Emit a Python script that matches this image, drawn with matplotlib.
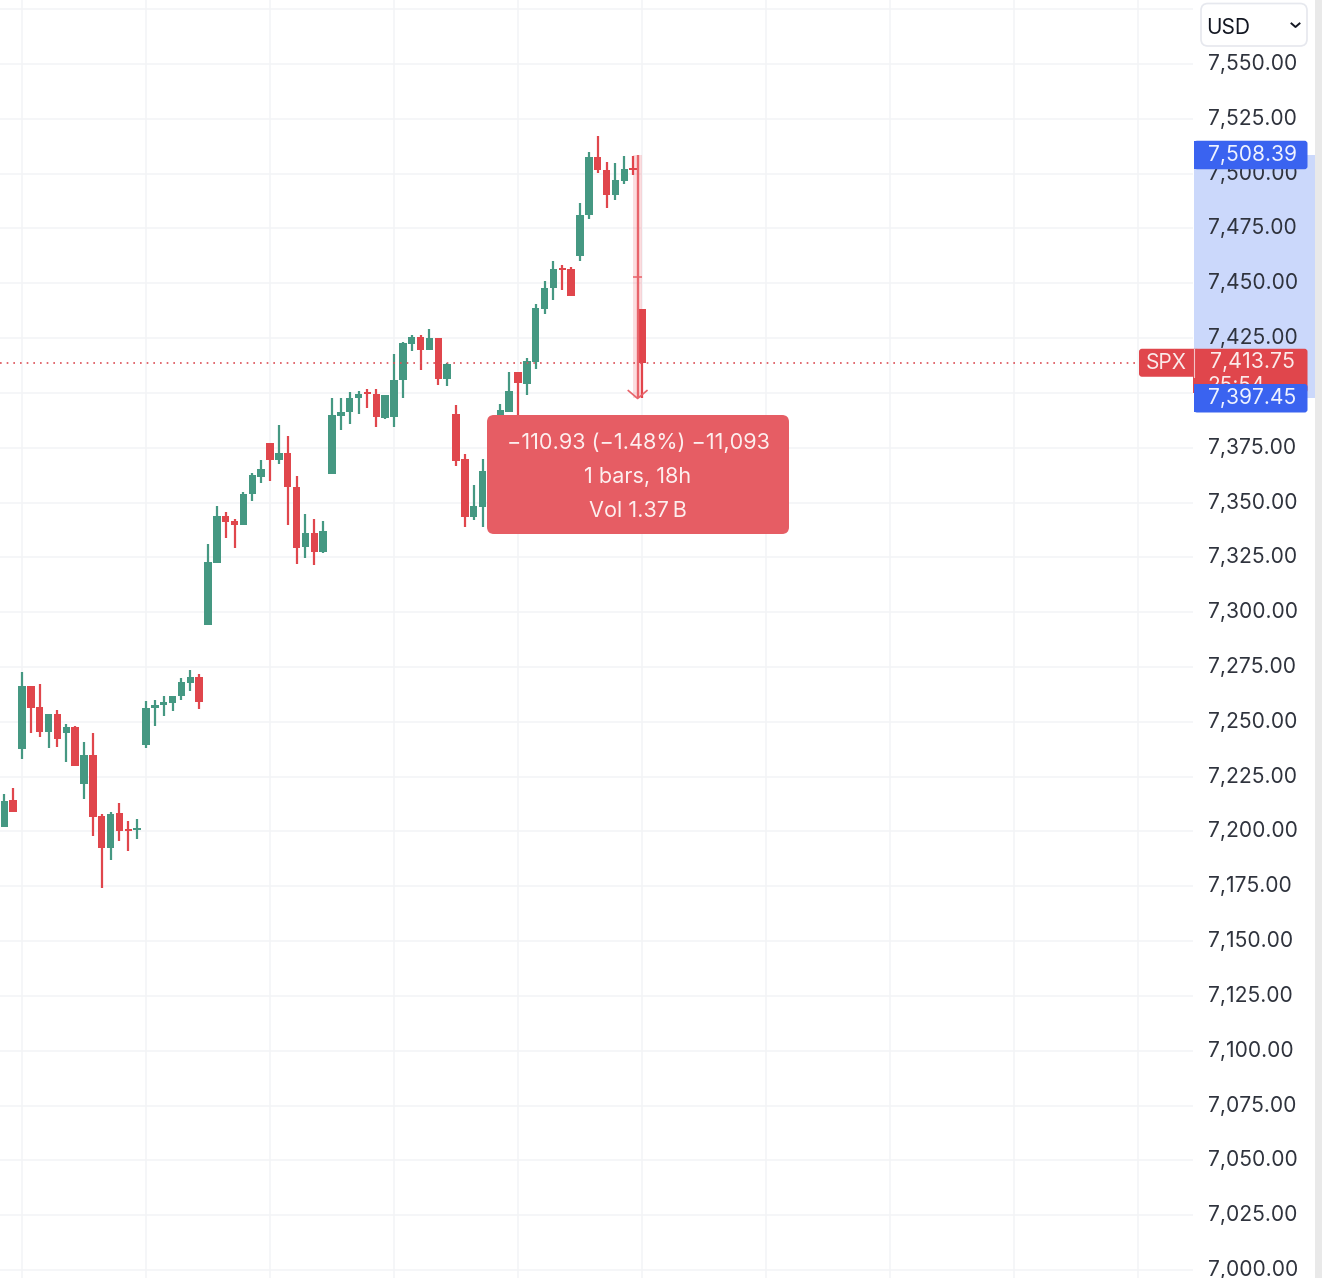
import matplotlib
matplotlib.use("Agg")
import matplotlib.pyplot as plt
from matplotlib.patches import FancyBboxPatch, Rectangle
from matplotlib.ticker import FuncFormatter
from matplotlib.transforms import ScaledTranslation, blended_transform_factory

plt.rcParams['font.family'] = ['Inter', 'DejaVu Sans']

# -------------------------------
# OHLC (bars 55, 56 and 58 are partly behind the tooltip)
# -------------------------------
opens = [7202.2, 7214.5, 7237.6, 7266.2, 7256.8, 7245.4, 7253.4, 7244.9, 7247.6, 7221.6,
         7234.7, 7206.9, 7192.6, 7208.4, 7201.0, 7200.8, 7239.4, 7256.2, 7257.7, 7258.5,
         7261.6, 7267.7, 7270.4, 7294.2, 7322.6, 7344.0, 7341.6, 7339.8, 7353.9, 7361.7,
         7377.2, 7369.4, 7372.5, 7357.2, 7329.7, 7336.3, 7327.5, 7362.9, 7389.6, 7391.2,
         7397.8, 7400.6, 7399.5, 7388.7, 7388.9, 7405.9, 7422.2, 7425.4, 7419.4, 7425.2,
         7406.5, 7390.5, 7369.7, 7343.4, 7348.1, 7352.0, 7378.0, 7391.4, 7409.4, 7403.9,
         7414.2, 7438.4, 7447.7, 7457.0, 7456.5, 7462.6, 7481.1, 7507.5, 7501.5, 7490.4,
         7496.8, 7502.4, 7438.1]
highs = [7217.1, 7220.0, 7272.6, 7266.2, 7267.3, 7253.4, 7255.3, 7249.0, 7248.2, 7240.9,
         7244.9, 7208.0, 7208.7, 7212.8, 7204.8, 7205.7, 7259.5, 7259.8, 7261.8, 7261.9,
         7270.0, 7273.6, 7271.7, 7331.0, 7348.4, 7345.6, 7342.5, 7354.8, 7363.3, 7369.4,
         7377.2, 7385.4, 7380.2, 7362.0, 7344.8, 7342.5, 7341.5, 7397.7, 7397.5, 7400.4,
         7401.0, 7401.7, 7401.7, 7399.1, 7417.8, 7423.1, 7426.4, 7426.4, 7429.0, 7425.2,
         7413.5, 7394.4, 7372.0, 7358.0, 7370.0, 7380.0, 7395.0, 7409.7, 7409.4, 7415.8,
         7440.4, 7451.0, 7460.2, 7458.3, 7457.3, 7486.5, 7510.0, 7517.2, 7505.5, 7504.9,
         7508.1, 7508.2, 7438.1]
lows = [7202.0, 7208.9, 7232.9, 7244.9, 7243.2, 7238.2, 7238.7, 7231.7, 7229.7, 7214.9,
        7198.1, 7174.4, 7187.0, 7195.7, 7191.2, 7196.4, 7237.9, 7248.2, 7252.7, 7254.9,
        7260.1, 7264.2, 7255.7, 7294.2, 7322.6, 7333.7, 7329.4, 7339.8, 7350.9, 7359.1,
        7360.0, 7367.5, 7339.8, 7322.1, 7324.9, 7321.7, 7327.1, 7362.9, 7383.0, 7386.0,
        7390.4, 7393.1, 7384.6, 7388.2, 7384.6, 7397.8, 7419.1, 7410.5, 7419.4, 7403.6,
        7403.3, 7366.8, 7338.7, 7342.0, 7339.0, 7345.0, 7372.0, 7391.4, 7388.0, 7399.1,
        7410.8, 7436.1, 7442.4, 7447.1, 7444.2, 7460.2, 7479.5, 7500.4, 7484.5, 7488.1,
        7495.3, 7499.4, 7397.45]
closes = [7214.0, 7208.9, 7266.2, 7256.4, 7245.4, 7253.4, 7242.3, 7247.6, 7230.0, 7234.7,
          7206.6, 7192.6, 7208.0, 7200.4, 7200.4, 7201.4, 7256.3, 7257.7, 7258.9, 7261.9,
          7268.2, 7270.4, 7259.2, 7322.9, 7344.0, 7341.1, 7339.8, 7353.9, 7362.4, 7365.4,
          7369.5, 7372.5, 7357.1, 7329.4, 7336.0, 7327.5, 7337.0, 7389.9, 7391.4, 7397.7,
          7399.5, 7399.7, 7388.9, 7399.1, 7405.8, 7422.8, 7425.4, 7419.4, 7425.2, 7406.5,
          7413.1, 7369.0, 7343.4, 7348.3, 7364.3, 7375.0, 7392.2, 7401.0, 7404.4, 7414.6,
          7438.7, 7448.0, 7456.5, 7456.2, 7444.2, 7481.0, 7507.5, 7501.8, 7490.4, 7497.0,
          7502.0, 7501.8, 7413.75]

price_ticks = list(range(7000, 7600, 25))
time_ticks = list(range(2, 134, 14))

last_price = 7413.75
range_top = 7508.39
range_bottom = 7397.45
tooltip_lines = ["\u2212110.93 (\u22121.48%) \u221211,093", "1 bars, 18h", "Vol 1.37\u2009B"]

# -------------------------------
# Colori
# -------------------------------
GREEN = "#459882"
RED = "#e0464c"
BLUE = "#3a63f0"
SHADE = "#cbd8fb"
GRID = "#f3f4f6"
TEXT = "#2f333d"
TOOLTIP = "#e65d64"
ARROW = "#e8636a"

W, H = 1322, 1278
fig = plt.figure(figsize=(W / 100, H / 100), dpi=100, facecolor="white")

# price axis sits on the right of the chart area, 1193 px wide
ax = fig.add_axes([0, 0, 1193 / W, 1])
ax.set_xlim(-0.4855, 134.2)
ax.set_ylim(6996.34, 7579.19)
ax.set_axisbelow(True)
for s in ax.spines.values():
    s.set_visible(False)
ax.yaxis.tick_right()
ax.set_yticks(price_ticks)
ax.set_xticks(time_ticks)
ax.xaxis.set_major_formatter(FuncFormatter(lambda v, p: ""))
# the 7,575 label is covered by the USD selector in the reference
ax.yaxis.set_major_formatter(FuncFormatter(lambda v, p: "" if v > 7550 else f"{v:,.2f}"))
ax.tick_params(axis="both", length=0)
ax.tick_params(axis="y", pad=10.8, labelsize=15.2, labelcolor=TEXT)
ax.grid(True, color=GRID, lw=1.1)

# labels sit 2 px above their gridline
up = ScaledTranslation(0, 2 / 100, fig.dpi_scale_trans)
for lab in ax.get_yticklabels():
    lab.set_transform(lab.get_transform() + up)

# blue band next to the labels, spans the measured range
side = blended_transform_factory(fig.transFigure, ax.transData)
ax.add_patch(Rectangle((1194 / W, range_bottom), 121 / W, range_top - range_bottom,
                       transform=side, color=SHADE, lw=0, clip_on=False, zorder=0.2))

# candele
x = list(range(len(opens)))
colors = [GREEN if c >= o else RED for o, c in zip(opens, closes)]
ax.vlines(x, lows, highs, colors=colors, lw=1.6, zorder=2)
ax.bar(x, [abs(c - o) for o, c in zip(opens, closes)], bottom=[min(o, c) for o, c in zip(opens, closes)],
       width=0.84, color=colors, lw=0, zorder=2.1)

# last price line
ax.axhline(last_price, color="#dc4f56", lw=1.2, ls=(0, (1, 3.0)), zorder=2.2)

# ruler between bars 71 and 72
mid = 71.5
ax.add_patch(Rectangle((71, range_bottom), 1, range_top - range_bottom, color="#f23645", alpha=0.17, lw=0, zorder=2.3))
ax.vlines(mid, range_bottom, range_top, color=ARROW, lw=1.7, zorder=2.4)
ax.hlines((range_top + range_bottom) / 2, 71, 72, color=ARROW, lw=1.1, zorder=2.4)
ax.plot([mid - 1.05, mid, mid + 1.05], [range_bottom + 3.6, range_bottom, range_bottom + 3.6],
        color=ARROW, lw=1.2, zorder=2.4)

# -------------------------------
# Labels and tooltip, in pixels on a top layer
# -------------------------------
ui = fig.add_axes([0, 0, 1, 1], zorder=5)
ui.set_xlim(0, W)
ui.set_ylim(H, 0)
ui.axis("off")


def box(x0, y0, w, h, color, r=3, edge="none", z=3):
    p = FancyBboxPatch((x0, y0), w, h, boxstyle=f"round,pad=0,rounding_size={r}",
                       fc=color, ec=edge, lw=1.2 if edge != "none" else 0, zorder=z)
    ui.add_patch(p)


def price_y(v):
    return ax.transData.transform((0, v))[1] * -1 + H


ui.add_patch(Rectangle((1315, 0), 7, H, color="#e9e9e9", lw=0, zorder=1))

# USD selector
box(1201, 3.5, 106, 42.5, "white", r=7, edge="#e6e8ee")
ui.text(1206, 27.5, "USD", fontsize=15, color="#131722", va="center", ha="left", zorder=4)
ui.plot([1291.5, 1295.5, 1299.5], [23.5, 27, 23.5], color="#131722", lw=1.4, zorder=4)

# tag prezzo
y_last = price_y(last_price)
box(1139, y_last - 14, 60, 28, RED, z=3)
box(1194, y_last - 14, 113.5, 44, RED, z=3)
ui.add_patch(Rectangle((1193, y_last - 14), 6, 44, color=RED, lw=0, zorder=3))
ui.plot([1193.5, 1193.5], [y_last - 14, y_last + 14], color="#f3c4c6", lw=0.8, zorder=3.1)
ui.text(1166, y_last + 0.5, "SPX", fontsize=15, color="#fbeaea", ha="center", va="center", zorder=4)
ui.text(1252.5, y_last - 1, f"{last_price:,.2f}", fontsize=15.4, color="#fbeaea", ha="center", va="center", zorder=4)
ui.text(1236.5, y_last + 23, "25:54", fontsize=15, color="#fbeaea", ha="center", va="center", zorder=3.2)

# etichette range
for v in (range_top, range_bottom):
    y = price_y(v)
    box(1194, y - 14.5, 113.5, 28.5, BLUE, z=5)
    ui.add_patch(Rectangle((1194, y - 14.5), 6, 28.5, color=BLUE, lw=0, zorder=5))
    ui.text(1252.5, y - 0.5, f"{v:,.2f}", fontsize=15.2, color="#eef2ff", ha="center", va="center", zorder=6)

# tooltip
box(487, 415, 302, 119, TOOLTIP, r=7, z=3)
for line, y in zip(tooltip_lines, (443, 477, 511)):
    ui.text(638, y, line, fontsize=15.6, color="#fdeeee", ha="center", va="center", zorder=4)

fig.savefig("out.png", dpi=100)
